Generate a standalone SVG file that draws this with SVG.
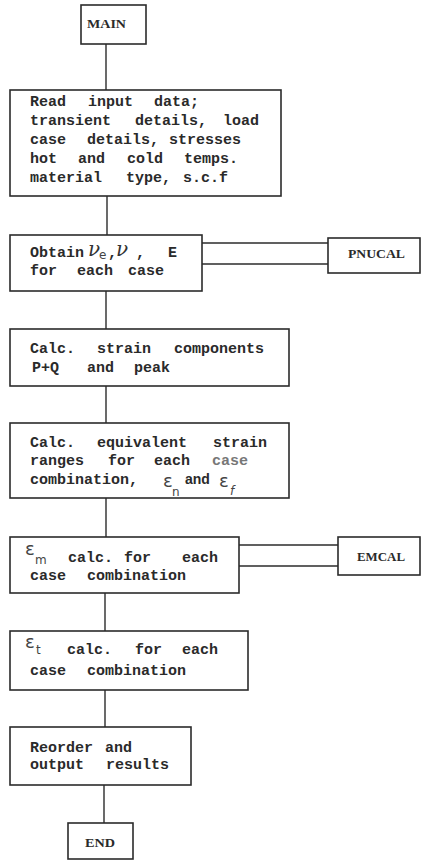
<svg xmlns="http://www.w3.org/2000/svg" width="427" height="862" viewBox="0 0 427 862">
  <style>
    .box { fill: #fff; stroke: #2b2b2b; stroke-width: 1.6; }
    .wire { fill: none; stroke: #2b2b2b; stroke-width: 1.4; }
    .t { font-family: "Liberation Mono", "DejaVu Sans Mono", monospace; font-size: 15px; font-weight: bold; fill: #2a2a2a; }
    .cap { font-family: "Liberation Serif", "DejaVu Serif", serif; font-size: 12px; font-weight: bold; fill: #2a2a2a; }
    .sym { font-family: "DejaVu Serif", "Liberation Serif", serif; font-style: italic; fill: #333; }
    .eps { font-family: "DejaVu Sans", "Liberation Sans", sans-serif; font-size: 18px; fill: #444; }
    .sub { font-family: "DejaVu Sans", "Liberation Sans", sans-serif; font-size: 12px; fill: #444; }
    .and { font-family: "Liberation Sans", "DejaVu Sans", sans-serif; font-size: 14px; font-weight: bold; fill: #2a2a2a; }
  </style>
  <rect width="427" height="862" fill="#fff"/>

  <!-- connectors -->
  <g id="connectors">
    <line class="wire" x1="106" y1="44" x2="106" y2="90"/>
    <line class="wire" x1="107" y1="196" x2="107" y2="235"/>
    <line class="wire" x1="106" y1="291" x2="106" y2="329"/>
    <line class="wire" x1="106" y1="386" x2="106" y2="423"/>
    <line class="wire" x1="106" y1="498" x2="106" y2="537"/>
    <line class="wire" x1="105" y1="593" x2="105" y2="631"/>
    <line class="wire" x1="105" y1="690" x2="105" y2="727"/>
    <line class="wire" x1="104" y1="785" x2="104" y2="823"/>
    <!-- double links to subroutines -->
    <line class="wire" x1="202" y1="243" x2="328" y2="243"/>
    <line class="wire" x1="202" y1="264" x2="328" y2="264"/>
    <line class="wire" x1="239" y1="545" x2="338" y2="545"/>
    <line class="wire" x1="239" y1="566" x2="338" y2="566"/>
  </g>

  <g id="main">
    <rect class="box" x="81" y="5" width="65" height="39"/>
    <text class="cap" x="87" y="28" textLength="39" lengthAdjust="spacingAndGlyphs">MAIN</text>
  </g>

  <g id="read-input">
    <rect class="box" x="10" y="90" width="271" height="106"/>
    <text class="t" y="106"><tspan x="30">Read</tspan><tspan x="88">input</tspan><tspan x="154">data;</tspan></text>
    <text class="t" y="125"><tspan x="30">transient</tspan><tspan x="135">details,</tspan><tspan x="223">load</tspan></text>
    <text class="t" y="144"><tspan x="30">case</tspan><tspan x="87">details,</tspan><tspan x="169">stresses</tspan></text>
    <text class="t" y="163"><tspan x="30">hot</tspan><tspan x="78">and</tspan><tspan x="127">cold</tspan><tspan x="184">temps.</tspan></text>
    <text class="t" y="182"><tspan x="30">material</tspan><tspan x="126">type,</tspan><tspan x="183">s.c.f</tspan></text>
  </g>

  <g id="obtain">
    <rect class="box" x="10" y="235" width="192" height="56"/>
    <text class="t" x="30" y="257">Obtain</text>
    <text class="sym" x="88" y="256" font-size="20">ν</text>
    <text class="sub" x="99" y="259" font-size="10">e</text>
    <text class="t" x="108" y="257">,</text>
    <text class="sym" x="116" y="256" font-size="20">ν</text>
    <text class="t" x="136" y="257">,</text>
    <text class="t" x="168" y="257" font-size="12">E</text>
    <text class="t" y="275"><tspan x="30">for</tspan><tspan x="77">each</tspan><tspan x="128">case</tspan></text>
  </g>

  <g id="pnucal">
    <rect class="box" x="328" y="238" width="92" height="35"/>
    <text class="cap" x="348" y="258" textLength="57" lengthAdjust="spacingAndGlyphs">PNUCAL</text>
  </g>

  <g id="strain-components">
    <rect class="box" x="10" y="329" width="279" height="57"/>
    <text class="t" y="353"><tspan x="30">Calc.</tspan><tspan x="97">strain</tspan><tspan x="174">components</tspan></text>
    <text class="t" y="372"><tspan x="32">P+Q</tspan><tspan x="87">and</tspan><tspan x="134">peak</tspan></text>
  </g>

  <g id="equivalent-strain">
    <rect class="box" x="10" y="423" width="279" height="75"/>
    <text class="t" y="447"><tspan x="30">Calc.</tspan><tspan x="97">equivalent</tspan><tspan x="213">strain</tspan></text>
    <text class="t" y="465"><tspan x="30">ranges</tspan><tspan x="108">for</tspan><tspan x="154">each</tspan><tspan x="212" fill="#777">case</tspan></text>
    <text class="t" x="30" y="484">combination,</text>
    <text class="eps" x="163" y="487">ε</text>
    <text class="sub" x="172" y="496">n</text>
    <text class="and" x="185" y="484">and</text>
    <text class="eps" x="219" y="487" fill="#888">ε</text>
    <text class="sub sym" x="230" y="495" fill="#888">f</text>
  </g>

  <g id="em-calc">
    <rect class="box" x="10" y="537" width="229" height="56"/>
    <text class="eps" x="25" y="555">ε</text>
    <text class="sub" x="35" y="564">m</text>
    <text class="t" y="562"><tspan x="68">calc.</tspan><tspan x="124">for</tspan><tspan x="182">each</tspan></text>
    <text class="t" y="580"><tspan x="30">case</tspan><tspan x="87">combination</tspan></text>
  </g>

  <g id="emcal">
    <rect class="box" x="338" y="537" width="82" height="38"/>
    <text class="cap" x="357" y="561" textLength="48" lengthAdjust="spacingAndGlyphs">EMCAL</text>
  </g>

  <g id="et-calc">
    <rect class="box" x="10" y="631" width="238" height="59"/>
    <text class="eps" x="25" y="648">ε</text>
    <text class="sub" x="36" y="654">t</text>
    <text class="t" y="654"><tspan x="67">calc.</tspan><tspan x="135">for</tspan><tspan x="182">each</tspan></text>
    <text class="t" y="675"><tspan x="30">case</tspan><tspan x="87">combination</tspan></text>
  </g>

  <g id="reorder">
    <rect class="box" x="10" y="727" width="181" height="58"/>
    <text class="t" y="752"><tspan x="30">Reorder</tspan><tspan x="105">and</tspan></text>
    <text class="t" y="769"><tspan x="30">output</tspan><tspan x="106">results</tspan></text>
  </g>

  <g id="end">
    <rect class="box" x="68" y="823" width="65" height="36"/>
    <text class="cap" x="85" y="847" textLength="30" lengthAdjust="spacingAndGlyphs">END</text>
  </g>
</svg>
